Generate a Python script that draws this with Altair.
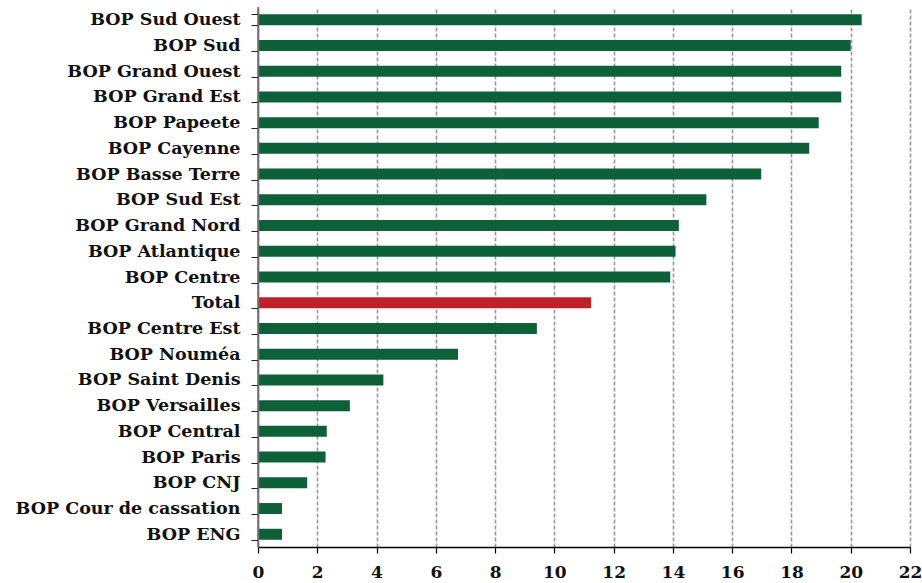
import altair as alt
import pandas as pd

# Bureaux (BOP) listed top to bottom, with their values
labels = [
    "BOP Sud Ouest", "BOP Sud", "BOP Grand Ouest", "BOP Grand Est",
    "BOP Papeete", "BOP Cayenne", "BOP Basse Terre", "BOP Sud Est",
    "BOP Grand Nord", "BOP Atlantique", "BOP Centre", "Total",
    "BOP Centre Est", "BOP Nouméa", "BOP Saint Denis", "BOP Versailles",
    "BOP Central", "BOP Paris", "BOP CNJ", "BOP Cour de cassation", "BOP ENG",
]
values = [
    20.37, 20.0, 19.68, 19.68,
    18.92, 18.6, 16.98, 15.13,
    14.2, 14.09, 13.91, 11.24,
    9.41, 6.75, 4.23, 3.10,
    2.32, 2.28, 1.66, 0.81, 0.81,
]
x_ticks = list(range(0, 23, 2))

df = pd.DataFrame({"label": labels, "value": values})
df["kind"] = ["total" if l == "Total" else "bop" for l in labels]

FONT = "DejaVu Serif"

x_enc = alt.X(
    "value:Q",
    scale=alt.Scale(domain=[0, 22], nice=False, zero=True),
    axis=alt.Axis(
        values=x_ticks,
        title=None,
        grid=True,
        gridDash=[4, 2],
        gridColor="#999999",
        gridWidth=1.6,
        domainColor="#000000",
        domainWidth=1.5,
        tickColor="#000000",
        tickWidth=1.2,
        tickSize=6,
        labelFont=FONT,
        labelFontWeight="bold",
        labelFontSize=17,
        labelColor="#111111",
        labelPadding=11,
        labelFlush=False,
    ),
)

bars = alt.Chart(df).mark_bar(size=11).encode(
    x=x_enc,
    y=alt.Y(
        "label:N",
        sort=labels,
        scale=alt.Scale(paddingInner=0.57, paddingOuter=0.28),
        axis=alt.Axis(
            title=None,
            grid=False,
            domainColor="#707070",
            domainWidth=1.5,
            tickColor="#222222",
            tickWidth=1,
            tickSize=7,
            tickBand="extent",
            labelFont=FONT,
            labelFontWeight="bold",
            labelFontSize=17.5,
            labelColor="#111111",
            labelPadding=11,
            labelLimit=400,
            zindex=2,
        ),
    ),
    color=alt.Color(
        "kind:N",
        scale=alt.Scale(domain=["bop", "total"], range=["#0E6039", "#C0202A"]),
        legend=None,
    ),
)

# vertical axis line at value 0, spanning the full plot height
zero_line = alt.Chart(pd.DataFrame({"value": [0]})).mark_rule(
    color="#707070", strokeWidth=1.5
).encode(x="value:Q")

chart = alt.layer(bars, zero_line).properties(
    width=652,
    height=540,
    autosize=alt.AutoSizeParams(type="none"),
    padding={"left": 258, "top": 7, "right": 12, "bottom": 36},
    background="#ffffff",
).configure_view(stroke=None)

chart.save("out.html", embed_options={"renderer": "svg", "actions": False})
